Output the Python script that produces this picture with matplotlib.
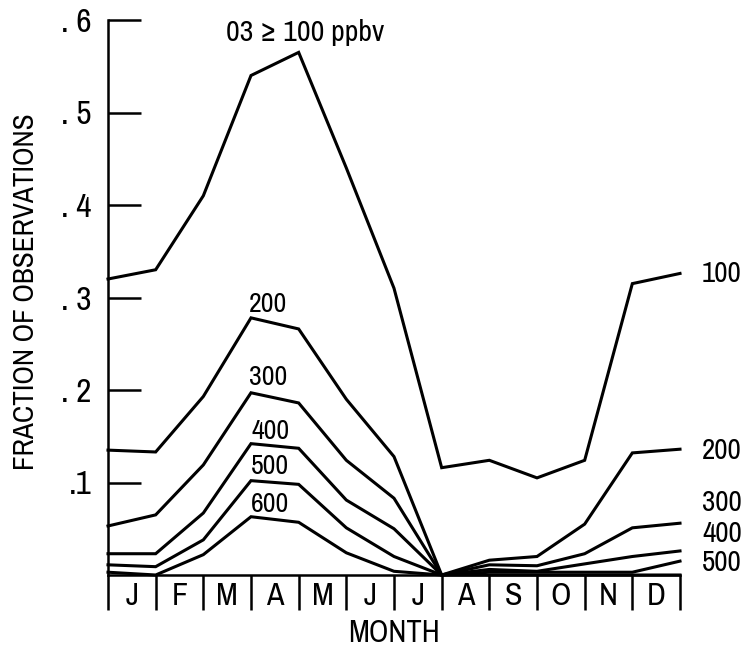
import matplotlib
matplotlib.use("Agg")
import matplotlib.pyplot as plt
from matplotlib import font_manager

# Datos (fraccion de observaciones, limites de cada mes)
months = ['J', 'F', 'M', 'A', 'M', 'J', 'J', 'A', 'S', 'O', 'N', 'D']
edges = list(range(13))

o3_100 = [0.32, 0.33, 0.41, 0.54, 0.565, 0.44, 0.31, 0.116, 0.124, 0.105, 0.124, 0.315, 0.326]
o3_200 = [0.135, 0.133, 0.193, 0.278, 0.266, 0.19, 0.128, 0.0, 0.016, 0.02, 0.055, 0.132, 0.136]
o3_300 = [0.053, 0.065, 0.119, 0.197, 0.186, 0.124, 0.083, 0.0, 0.011, 0.01, 0.023, 0.051, 0.056]
o3_400 = [0.023, 0.023, 0.067, 0.142, 0.137, 0.081, 0.05, 0.0, 0.006, 0.004, 0.012, 0.02, 0.026]
o3_500 = [0.011, 0.009, 0.038, 0.102, 0.098, 0.051, 0.02, 0.0, 0.003, 0.003, 0.003, 0.003, 0.015]
o3_600 = [0.003, 0.0, 0.022, 0.063, 0.057, 0.024, 0.004, 0.0, 0.0, 0.0, 0.0, 0.0, 0.0]

ytick_vals = [0.1, 0.2, 0.3, 0.4, 0.5, 0.6]
ytick_labels = ['.1', '. 2', '. 3', '. 4', '. 5', '. 6']

# Buscar una fuente estrecha si existe
fonts = font_manager.fontManager.ttflist
narrow = None
for f in fonts:
    if 'Narrow' in f.name or 'Condensed' in f.name:
        narrow = f.name
        break
if narrow:
    plt.rcParams['font.family'] = [narrow, 'DejaVu Sans']
    scale = 1.0
elif any(f.name == 'DejaVu Sans' and f.stretch == 'condensed' for f in fonts):
    plt.rcParams['font.family'] = ['DejaVu Sans']
    plt.rcParams['font.stretch'] = 'condensed'
    scale = 0.95
else:
    plt.rcParams['font.family'] = ['Roboto', 'DejaVu Sans']
    scale = 0.85

fig = plt.figure(figsize=(7.47, 6.5), dpi=100)
ax = fig.add_axes([108 / 747, 1 - 575 / 650, (680 - 108) / 747, (575 - 20) / 650])

for serie in [o3_100, o3_200, o3_300, o3_400, o3_500, o3_600]:
    ax.plot(edges, serie, color='black', lw=2.2, solid_joinstyle='miter', clip_on=False)

ax.set_xlim(0, 12)
ax.set_ylim(0, 0.6)
for s in ['top', 'right']:
    ax.spines[s].set_visible(False)
for s in ['left', 'bottom']:
    ax.spines[s].set_linewidth(1.8)

# Eje x: divisiones entre meses, etiquetas centradas
ax.set_xticks(edges)
ax.set_xticklabels([])
ax.set_xticks([e + 0.5 for e in edges[:-1]], minor=True)
ax.set_xticklabels(months, minor=True, fontsize=23 * scale)
ax.tick_params(axis='x', which='major', direction='out', length=25, width=1.8)
ax.tick_params(axis='x', which='minor', length=0, pad=5)

ax.set_yticks(ytick_vals)
ax.set_yticklabels(ytick_labels, fontsize=24 * scale)
ax.tick_params(axis='y', direction='in', length=24, width=1.8, pad=12)

ax.set_xlabel('MONTH', fontsize=22 * scale, labelpad=3)
fig.text(26 / 747, 1 - 292 / 650, 'FRACTION OF OBSERVATIONS', rotation=90,
         ha='center', va='center', fontsize=21 * scale)

# Etiquetas de las curvas
ax.text(4.13, 0.587, '03 ≥ 100 ppbv', ha='center', va='center', fontsize=21.5 * scale)
ax.text(3.36, 0.292, '200', ha='center', va='center', fontsize=20 * scale)
ax.text(3.36, 0.213, '300', ha='center', va='center', fontsize=20 * scale)
ax.text(3.40, 0.155, '400', ha='center', va='center', fontsize=20 * scale)
ax.text(3.40, 0.117, '500', ha='center', va='center', fontsize=20 * scale)
ax.text(3.40, 0.076, '600', ha='center', va='center', fontsize=20 * scale)

for txt, yv in [('100', 0.326), ('200', 0.135), ('300', 0.078), ('400', 0.045), ('500', 0.014)]:
    ax.text(12.46, yv, txt, ha='left', va='center', fontsize=21 * scale, clip_on=False)

fig.savefig('out.png', dpi=100)
